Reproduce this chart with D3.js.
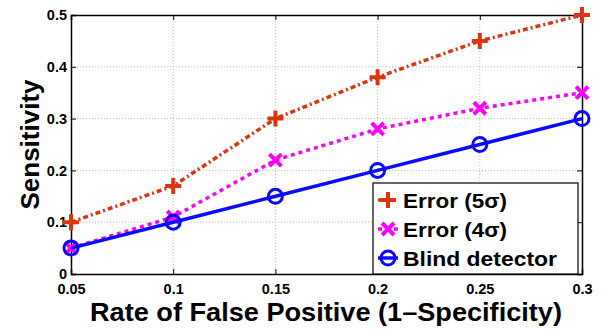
<!DOCTYPE html>
<html>
<head>
<meta charset="utf-8">
<script src="https://cdn.jsdelivr.net/npm/d3@7"></script>
<style>
  body { margin: 0; background: #fff; }
  svg text { font-family: "Liberation Sans", Arial, sans-serif; font-weight: bold; }
</style>
</head>
<body>
<div id="chart"></div>
<script>
// data
var fpr = [0.05, 0.1, 0.15, 0.2, 0.25, 0.3];
var err5 = [0.1, 0.17, 0.3, 0.38, 0.45, 0.5];
var err4 = [0.05, 0.11, 0.22, 0.28, 0.32, 0.35];
var blind = [0.05, 0.1, 0.15, 0.2, 0.25, 0.3];
var xTicks = [0.05, 0.1, 0.15, 0.2, 0.25, 0.3];
var yTicks = [0, 0.1, 0.2, 0.3, 0.4, 0.5];
var seriesNames = ["Error (5\u03c3)", "Error (4\u03c3)", "Blind detector"];

var width = 609, height = 331;
var margin = {left: 71, right: 27, top: 15, bottom: 57};

var svg = d3.select("#chart").append("svg")
    .attr("width", width)
    .attr("height", height);

var x = d3.scaleLinear().domain([0.05, 0.3]).range([margin.left, width - margin.right]);
var y = d3.scaleLinear().domain([0, 0.5]).range([height - margin.bottom, margin.top]);

// grid
var grid = svg.append("g").attr("stroke", "#bbb").attr("stroke-width", 1).attr("stroke-dasharray", "1,2");
grid.selectAll(".gx").data(xTicks.slice(1, -1)).enter().append("line")
    .attr("x1", function(d) { return x(d); }).attr("x2", function(d) { return x(d); })
    .attr("y1", y(0)).attr("y2", y(0.5));
grid.selectAll(".gy").data(yTicks.slice(1, -1)).enter().append("line")
    .attr("y1", function(d) { return y(d); }).attr("y2", function(d) { return y(d); })
    .attr("x1", x(0.05)).attr("x2", x(0.3));

// axes (ticks point inward, matlab style box)
var xAxis = svg.append("g")
    .attr("transform", "translate(0," + y(0) + ")")
    .call(d3.axisBottom(x).tickValues(xTicks).tickSize(-5).tickPadding(10)
        .tickFormat(function(d) { return String(+d.toFixed(2)); }));
var yAxis = svg.append("g")
    .attr("transform", "translate(" + x(0.05) + ",0)")
    .call(d3.axisLeft(y).tickValues(yTicks).tickSize(-5).tickPadding(4)
        .tickFormat(function(d) { return String(+d.toFixed(1)); }));
var xTop = svg.append("g")
    .attr("transform", "translate(0," + y(0.5) + ")")
    .call(d3.axisTop(x).tickValues(xTicks).tickSize(-5).tickFormat(""));
var yRight = svg.append("g")
    .attr("transform", "translate(" + x(0.3) + ",0)")
    .call(d3.axisRight(y).tickValues(yTicks).tickSize(-5).tickFormat(""));

[xAxis, yAxis, xTop, yRight].forEach(function(a) {
    a.select(".domain").attr("stroke", "#000").attr("stroke-width", 1.5);
    a.selectAll(".tick line").attr("stroke", "#000");
    a.selectAll("text").attr("font-size", 14.5).attr("fill", "#000")
        .attr("font-weight", "bold")
        .style("font-family", "'Liberation Sans', Arial, sans-serif");
});

svg.append("text")
    .attr("x", 326)
    .attr("y", 321)
    .attr("text-anchor", "middle")
    .attr("font-size", 26)
    .attr("font-weight", "bold")
    .attr("textLength", 472)
    .attr("lengthAdjust", "spacingAndGlyphs")
    .text("Rate of False Positive (1\u2013Specificity)");

svg.append("text")
    .attr("transform", "translate(39," + ((y(0) + y(0.5)) / 2) + ") rotate(-90)")
    .attr("text-anchor", "middle")
    .attr("font-size", 26)
    .attr("font-weight", "bold")
    .text("Sensitivity");

var line = d3.line()
    .x(function(d, i) { return x(fpr[i]); })
    .y(function(d) { return y(d); });

var series = [
    {name: seriesNames[0], values: err5, color: "#dd3311", dash: "5,3,2,3", marker: "plus", tl: 104},
    {name: seriesNames[1], values: err4, color: "#ff00ff", dash: "4,4", marker: "cross", tl: 104},
    {name: seriesNames[2], values: blind, color: "#0a0aff", dash: null, marker: "circle", tl: 154}
];

function drawMarker(g, type, color) {
    if (type === "plus") {
        g.append("path").attr("d", "M-8,0H8M0,-8V8").attr("stroke", color).attr("stroke-width", 4).attr("fill", "none");
    } else if (type === "cross") {
        g.append("path").attr("d", "M-6,-6L6,6M-6,6L6,-6").attr("stroke", color).attr("stroke-width", 4).attr("fill", "none");
    } else {
        g.append("circle").attr("r", 7).attr("stroke", color).attr("stroke-width", 3).attr("fill", "none");
    }
}

series.forEach(function(s) {
    svg.append("path")
        .datum(s.values)
        .attr("d", line)
        .attr("fill", "none")
        .attr("stroke", s.color)
        .attr("stroke-width", 3.5)
        .attr("stroke-dasharray", s.dash);
    s.values.forEach(function(v, i) {
        var g = svg.append("g").attr("transform", "translate(" + x(fpr[i]) + "," + y(v) + ")");
        drawMarker(g, s.marker, s.color);
    });
});

// legend
var lg = svg.append("g").attr("transform", "translate(373,183)");
lg.append("rect").attr("width", 205).attr("height", 91)
    .attr("fill", "#fff").attr("stroke", "#000").attr("stroke-width", 1.2);
series.forEach(function(s, i) {
    var cy = 17 + i * 29;
    lg.append("line").attr("x1", 5).attr("x2", 25).attr("y1", cy).attr("y2", cy)
        .attr("stroke", s.color).attr("stroke-width", 3.5).attr("stroke-dasharray", s.dash);
    var m = lg.append("g").attr("transform", "translate(15," + cy + ")");
    drawMarker(m, s.marker, s.color);
    lg.append("text").attr("x", 30).attr("y", cy + 7.5)
        .attr("font-size", 21)
        .attr("font-weight", "bold")
        .attr("textLength", s.tl)
        .attr("lengthAdjust", "spacingAndGlyphs")
        .text(s.name);
});
</script>
</body>
</html>
